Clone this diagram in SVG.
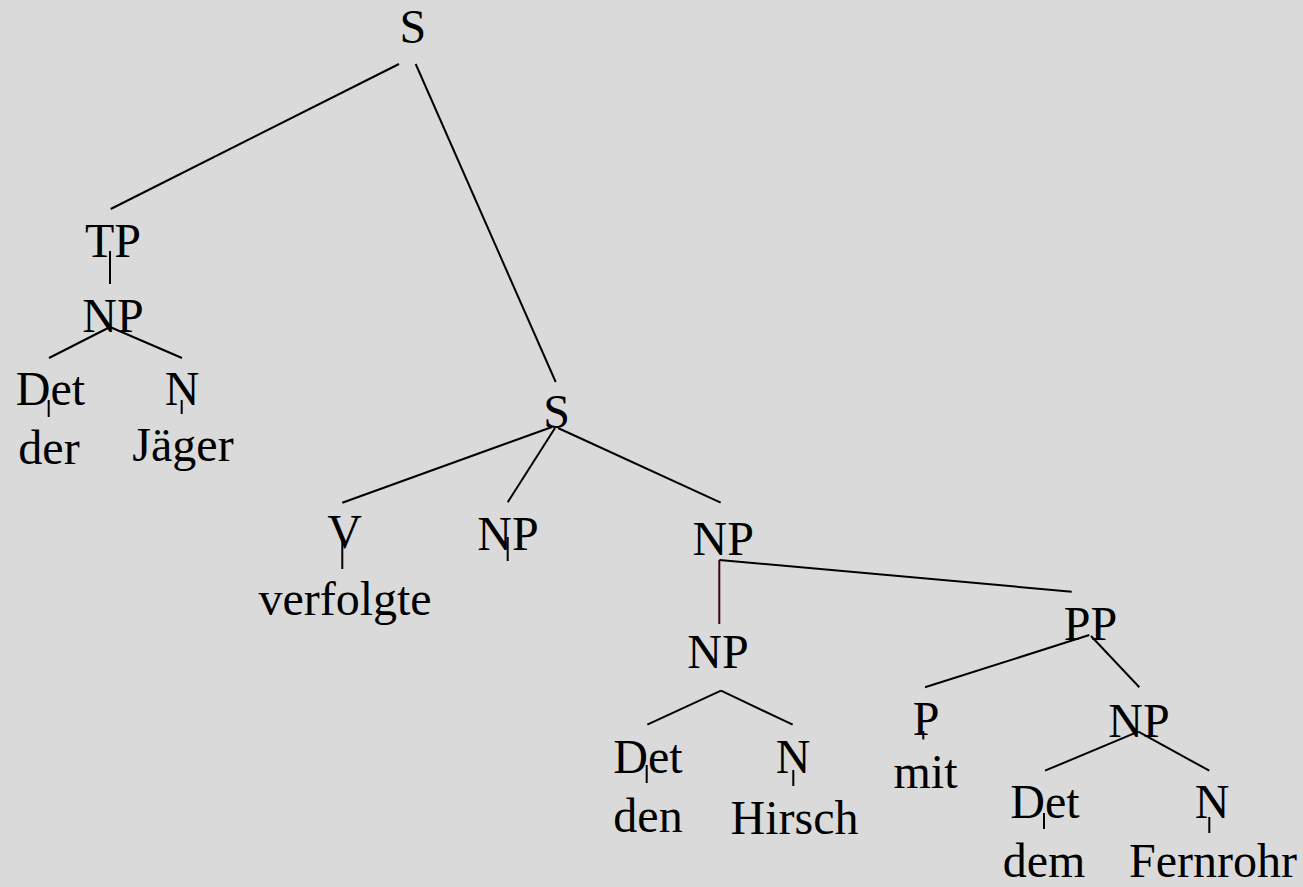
<svg xmlns="http://www.w3.org/2000/svg" width="1303" height="887" viewBox="0 0 1303 887">
<style>
.t{font-family:"Liberation Serif","Times New Roman",serif;font-size:48px;fill:#000;text-anchor:middle}
.e{stroke:#000;stroke-width:2;fill:none}
.r{stroke:#3c0610;stroke-width:2;fill:none}
</style>
<rect width="1303" height="887" fill="#dadada"/>
<g id="nodes">
<g id="n-S"><text class="t" x="412.8" y="43.3">S</text></g>
<g id="n-TP"><text class="t" x="113" y="257">TP</text></g>
<g id="n-NP1"><text class="t" x="113" y="332">NP</text></g>
<g id="n-Det1"><text class="t" x="50.5" y="405">Det</text></g>
<g id="n-N1"><text class="t" x="182" y="405">N</text></g>
<g id="n-der"><text class="t" x="49" y="464">der</text></g>
<g id="n-Jaeger"><text class="t" x="183" y="461">Jäger</text></g>
<g id="n-S2"><text class="t" x="556.7" y="428.3">S</text></g>
<g id="n-V"><text class="t" x="344.5" y="548">V</text></g>
<g id="n-NP2"><text class="t" x="508" y="550">NP</text></g>
<g id="n-NP3"><text class="t" x="723.3" y="555">NP</text></g>
<g id="n-verfolgte"><text class="t" x="345" y="615">verfolgte</text></g>
<g id="n-NP4"><text class="t" x="718" y="668">NP</text></g>
<g id="n-Det2"><text class="t" x="648" y="773">Det</text></g>
<g id="n-N2"><text class="t" x="793" y="773">N</text></g>
<g id="n-den"><text class="t" x="648" y="832">den</text></g>
<g id="n-Hirsch"><text class="t" x="794.5" y="834">Hirsch</text></g>
<g id="n-PP"><text class="t" x="1090.5" y="640">PP</text></g>
<g id="n-P"><text class="t" x="926" y="735">P</text></g>
<g id="n-mit"><text class="t" x="925.5" y="788">mit</text></g>
<g id="n-NP5"><text class="t" x="1139" y="737">NP</text></g>
<g id="n-Det3"><text class="t" x="1045" y="818">Det</text></g>
<g id="n-N3"><text class="t" x="1212" y="818">N</text></g>
<g id="n-dem"><text class="t" x="1044" y="877">dem</text></g>
<g id="n-Fernrohr"><text class="t" x="1213" y="877">Fernrohr</text></g>
</g>
<g id="connectors">
<line class="e" x1="399" y1="64" x2="110.7" y2="209"/>
<line class="e" x1="415.7" y1="64" x2="555.7" y2="382"/>
<line class="e" x1="110" y1="251" x2="110" y2="284"/>
<line class="e" x1="110" y1="327" x2="49" y2="358"/>
<line class="e" x1="110" y1="327" x2="182" y2="358"/>
<line class="e" x1="48.7" y1="400" x2="48.7" y2="417"/>
<line class="e" x1="181.7" y1="400" x2="181.7" y2="414"/>
<line class="e" x1="552" y1="427" x2="342.3" y2="502.7"/>
<line class="e" x1="555" y1="428" x2="507.7" y2="502.3"/>
<line class="e" x1="558" y1="428" x2="720.7" y2="502.7"/>
<line class="e" x1="342.3" y1="542" x2="342.3" y2="569"/>
<line class="e" x1="507.7" y1="537" x2="507.7" y2="561"/>
<line class="r" x1="719.3" y1="560" x2="719.3" y2="624"/>
<line class="e" x1="719.3" y1="560" x2="1071.7" y2="591.7"/>
<line class="e" x1="721" y1="690.7" x2="647.3" y2="724.7"/>
<line class="e" x1="721" y1="690.7" x2="792.7" y2="724.7"/>
<line class="e" x1="646.7" y1="765" x2="646.7" y2="783"/>
<line class="e" x1="793.3" y1="770" x2="793.3" y2="786"/>
<line class="e" x1="1089.3" y1="635" x2="925" y2="687.3"/>
<line class="e" x1="1091" y1="636" x2="1139.3" y2="687.3"/>
<line class="e" x1="923.3" y1="731" x2="923.3" y2="739.5"/>
<line class="e" x1="1138.3" y1="731.7" x2="1045" y2="770.7"/>
<line class="e" x1="1138.3" y1="731.7" x2="1209.3" y2="770.7"/>
<line class="e" x1="1044" y1="813" x2="1044" y2="829"/>
<line class="e" x1="1209.3" y1="817" x2="1209.3" y2="833"/>
</g>
</svg>
